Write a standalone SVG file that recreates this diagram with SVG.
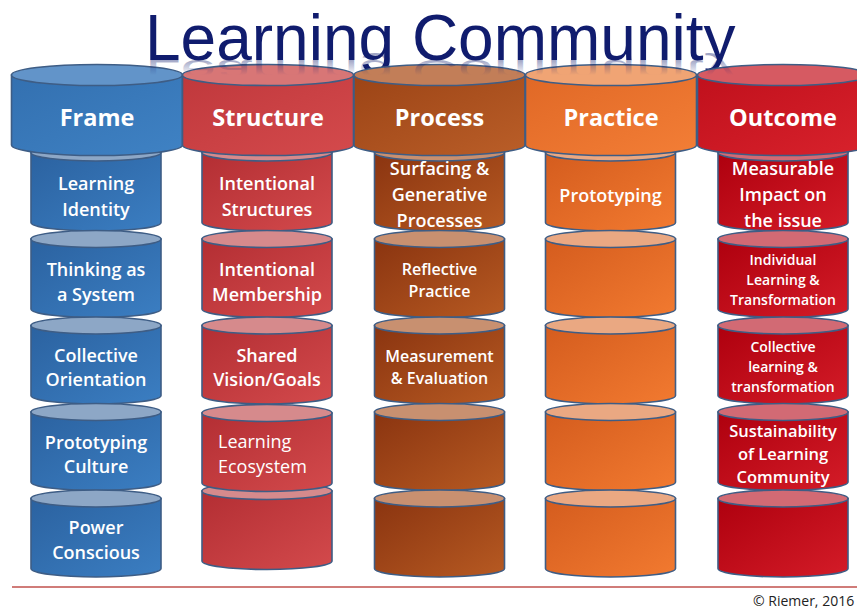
<svg xmlns="http://www.w3.org/2000/svg" width="857" height="611" viewBox="0 0 857 611">
  <defs>
    <style>
      .body { stroke: #3e5d85; stroke-width: 1.6; }
      .top { stroke: #3e5d85; stroke-width: 1.6; }
      .lbl { font-family: "Open Sans", "Liberation Sans", sans-serif; font-weight: 600; fill: #ffffff; text-anchor: middle; }
      .hdr { font-family: "Open Sans", "Liberation Sans", sans-serif; font-weight: 700; font-size: 23.5px; fill: #ffffff; text-anchor: middle; }
      .s18 { font-size: 18px; }
      .s16 { font-size: 16px; }
      .s14 { font-size: 14px; }
      .s165 { font-size: 16.5px; }
      .frame .body { fill: url(#gFrame); }
      .frame .top { fill: #8da7c6; }
      .structure .body { fill: url(#gStructure); }
      .structure .top { fill: #d68a8c; }
      .process .body { fill: url(#gProcess); }
      .process .top { fill: #c89070; }
      .practice .body { fill: url(#gPractice); }
      .practice .top { fill: #eaa882; }
      .outcome .body { fill: url(#gOutcome); }
      .outcome .top { fill: #d26a74; }
      .head.frame .body { fill: url(#hFrame); }
      .head.frame .top { fill: #6294c9; }
      .head.structure .body { fill: url(#hStructure); }
      .head.structure .top { fill: #d87676; }
      .head.process .body { fill: url(#hProcess); }
      .head.process .top { fill: #c27e58; }
      .head.practice .body { fill: url(#hPractice); }
      .head.practice .top { fill: #f0a474; }
      .head.outcome .body { fill: url(#hOutcome); }
      .head.outcome .top { fill: #d65a62; }
    </style>

    <!-- column body shading -->
    <linearGradient id="gFrame" x1="0" y1="0" x2="1" y2="1">
      <stop offset="0" stop-color="#2b62a0"/><stop offset="1" stop-color="#3b7ec2"/>
    </linearGradient>
    <linearGradient id="gStructure" x1="0" y1="0" x2="1" y2="1">
      <stop offset="0" stop-color="#b32e33"/><stop offset="1" stop-color="#d34a4c"/>
    </linearGradient>
    <linearGradient id="gProcess" x1="0" y1="0" x2="1" y2="1">
      <stop offset="0" stop-color="#8a3410"/><stop offset="1" stop-color="#b75a22"/>
    </linearGradient>
    <linearGradient id="gPractice" x1="0" y1="0" x2="1" y2="1">
      <stop offset="0" stop-color="#d45c1e"/><stop offset="1" stop-color="#f27a30"/>
    </linearGradient>
    <linearGradient id="gOutcome" x1="0" y1="0" x2="1" y2="1">
      <stop offset="0" stop-color="#ae000e"/><stop offset="1" stop-color="#d41c28"/>
    </linearGradient>
    <linearGradient id="hFrame" x1="0" y1="0" x2="1" y2="1">
      <stop offset="0" stop-color="#3370b0"/><stop offset="1" stop-color="#3f82c4"/>
    </linearGradient>
    <linearGradient id="hStructure" x1="0" y1="0" x2="1" y2="1">
      <stop offset="0" stop-color="#c0383c"/><stop offset="1" stop-color="#d44a4c"/>
    </linearGradient>
    <linearGradient id="hProcess" x1="0" y1="0" x2="1" y2="1">
      <stop offset="0" stop-color="#9c4416"/><stop offset="1" stop-color="#ba5e28"/>
    </linearGradient>
    <linearGradient id="hPractice" x1="0" y1="0" x2="1" y2="1">
      <stop offset="0" stop-color="#e06826"/><stop offset="1" stop-color="#f37e36"/>
    </linearGradient>
    <linearGradient id="hOutcome" x1="0" y1="0" x2="1" y2="1">
      <stop offset="0" stop-color="#c0101c"/><stop offset="1" stop-color="#d8222c"/>
    </linearGradient>
    <linearGradient id="titleFade" gradientUnits="userSpaceOnUse" x1="0" y1="60" x2="0" y2="30">
      <stop offset="0" stop-color="#101c6e" stop-opacity="0.4"/>
      <stop offset="1" stop-color="#101c6e" stop-opacity="0"/>
    </linearGradient>

    <!-- small cylinder, origin at centre of top face -->
    <path id="cylBody" d="M-65 0 V70 A65 8.5 0 0 0 65 70 V0 Z"/>
    <ellipse id="cylTop" cx="0" cy="0" rx="65" ry="8.5"/>
    <!-- header cylinder, origin at centre of top face -->
    <path id="hdrBody" d="M-85.5 0 V70 A85.5 10.5 0 0 0 85.5 70 V0 Z"/>
    <ellipse id="hdrTop" cx="0" cy="0" rx="85.5" ry="10.5"/>
  </defs>

  <rect width="857" height="611" fill="#ffffff"/>

  <!-- title -->
  <g id="title">
    <text x="145" y="60" font-family="Liberation Sans, Arial, sans-serif" font-size="64" fill="#101c6e">Learning Community</text>
  </g>

  <!-- Frame column -->
  <g id="frame-stack" class="frame">
    <g id="frame-learning-identity" transform="translate(96,152.5)">
      <use href="#cylBody" class="body"/><use href="#cylTop" class="top"/>
      <text class="lbl s18" x="0" y="37.5">Learning</text>
      <text class="lbl s18" x="0" y="63.5">Identity</text>
    </g>
    <g id="frame-thinking-system" transform="translate(96,239)">
      <use href="#cylBody" class="body"/><use href="#cylTop" class="top"/>
      <text class="lbl s18" x="0" y="36.5">Thinking as</text>
      <text class="lbl s18" x="0" y="62">a System</text>
    </g>
    <g id="frame-collective-orientation" transform="translate(96,325.5)">
      <use href="#cylBody" class="body"/><use href="#cylTop" class="top"/>
      <text class="lbl s18" x="0" y="36">Collective</text>
      <text class="lbl s18" x="0" y="60.5">Orientation</text>
    </g>
    <g id="frame-prototyping-culture" transform="translate(96,412)">
      <use href="#cylBody" class="body"/><use href="#cylTop" class="top"/>
      <text class="lbl s18" x="0" y="36.5">Prototyping</text>
      <text class="lbl s18" x="0" y="61">Culture</text>
    </g>
    <g id="frame-power-conscious" transform="translate(96,498.5)">
      <use href="#cylBody" class="body"/><use href="#cylTop" class="top"/>
      <text class="lbl s18" x="0" y="35">Power</text>
      <text class="lbl s18" x="0" y="60">Conscious</text>
    </g>
  </g>

  <!-- Structure column -->
  <g id="structure-stack" class="structure">
    <g id="structure-intentional-structures" transform="translate(267,152.5)">
      <use href="#cylBody" class="body"/><use href="#cylTop" class="top"/>
      <text class="lbl s18" x="0" y="37.5">Intentional</text>
      <text class="lbl s18" x="0" y="63.5">Structures</text>
    </g>
    <g id="structure-intentional-membership" transform="translate(267,239)">
      <use href="#cylBody" class="body"/><use href="#cylTop" class="top"/>
      <text class="lbl s18" x="0" y="36.5">Intentional</text>
      <text class="lbl s18" x="0" y="62">Membership</text>
    </g>
    <g id="structure-shared-vision" transform="translate(267,325.5)">
      <use href="#cylBody" class="body"/><use href="#cylTop" class="top"/>
      <text class="lbl s18" x="0" y="36">Shared</text>
      <text class="lbl s18" x="0" y="60.5">Vision/Goals</text>
    </g>
    <g id="structure-base" transform="translate(267,491)">
      <use href="#cylBody" class="body"/><use href="#cylTop" class="top"/>
    </g>
    <g id="structure-learning-ecosystem" transform="translate(267,413)">
      <use href="#cylBody" class="body"/><use href="#cylTop" class="top"/>
      <text class="lbl s18" x="-49" y="35" style="text-anchor:start;font-weight:400">Learning</text>
      <text class="lbl s18" x="-49" y="60" style="text-anchor:start;font-weight:400">Ecosystem</text>
    </g>
  </g>

  <!-- Process column -->
  <g id="process-stack" class="process">
    <g id="process-surfacing" transform="translate(439.5,152.5)">
      <use href="#cylBody" class="body"/><use href="#cylTop" class="top"/>
      <text class="lbl s18" x="0" y="22.5">Surfacing &amp;</text>
      <text class="lbl s18" x="0" y="48.5">Generative</text>
      <text class="lbl s18" x="0" y="74.5">Processes</text>
    </g>
    <g id="process-reflective-practice" transform="translate(439.5,239)">
      <use href="#cylBody" class="body"/><use href="#cylTop" class="top"/>
      <text class="lbl s16" x="0" y="36">Reflective</text>
      <text class="lbl s16" x="0" y="58">Practice</text>
    </g>
    <g id="process-measurement" transform="translate(439.5,325.5)">
      <use href="#cylBody" class="body"/><use href="#cylTop" class="top"/>
      <text class="lbl s16" x="0" y="36.5">Measurement</text>
      <text class="lbl s16" x="0" y="58">&amp; Evaluation</text>
    </g>
    <g id="process-empty-4" transform="translate(439.5,412)">
      <use href="#cylBody" class="body"/><use href="#cylTop" class="top"/>
    </g>
    <g id="process-empty-5" transform="translate(439.5,498.5)">
      <use href="#cylBody" class="body"/><use href="#cylTop" class="top"/>
    </g>
  </g>

  <!-- Practice column -->
  <g id="practice-stack" class="practice">
    <g id="practice-prototyping" transform="translate(610.5,152.5)">
      <use href="#cylBody" class="body"/><use href="#cylTop" class="top"/>
      <text class="lbl s18" x="0" y="49.5">Prototyping</text>
    </g>
    <g id="practice-empty-2" transform="translate(610.5,239)">
      <use href="#cylBody" class="body"/><use href="#cylTop" class="top"/>
    </g>
    <g id="practice-empty-3" transform="translate(610.5,325.5)">
      <use href="#cylBody" class="body"/><use href="#cylTop" class="top"/>
    </g>
    <g id="practice-empty-4" transform="translate(610.5,412)">
      <use href="#cylBody" class="body"/><use href="#cylTop" class="top"/>
    </g>
    <g id="practice-empty-5" transform="translate(610.5,498.5)">
      <use href="#cylBody" class="body"/><use href="#cylTop" class="top"/>
    </g>
  </g>

  <!-- Outcome column -->
  <g id="outcome-stack" class="outcome">
    <g id="outcome-measurable-impact" transform="translate(783,152.5)">
      <use href="#cylBody" class="body"/><use href="#cylTop" class="top"/>
      <text class="lbl s18" x="0" y="22.5">Measurable</text>
      <text class="lbl s18" x="0" y="48.5">Impact on</text>
      <text class="lbl s18" x="0" y="74.5">the issue</text>
    </g>
    <g id="outcome-individual-learning" transform="translate(783,239)">
      <use href="#cylBody" class="body"/><use href="#cylTop" class="top"/>
      <text class="lbl s14" x="0" y="26">Individual</text>
      <text class="lbl s14" x="0" y="46">Learning &amp;</text>
      <text class="lbl s14" x="0" y="66">Transformation</text>
    </g>
    <g id="outcome-collective-learning" transform="translate(783,325.5)">
      <use href="#cylBody" class="body"/><use href="#cylTop" class="top"/>
      <text class="lbl s14" x="0" y="26.5">Collective</text>
      <text class="lbl s14" x="0" y="46.5">learning &amp;</text>
      <text class="lbl s14" x="0" y="66.5">transformation</text>
    </g>
    <g id="outcome-sustainability" transform="translate(783,412)">
      <use href="#cylBody" class="body"/><use href="#cylTop" class="top"/>
      <text class="lbl s165" x="0" y="25">Sustainability</text>
      <text class="lbl s165" x="0" y="48">of Learning</text>
      <text class="lbl s165" x="0" y="71">Community</text>
    </g>
    <g id="outcome-empty-5" transform="translate(783,498.5)">
      <use href="#cylBody" class="body"/><use href="#cylTop" class="top"/>
    </g>
  </g>

  <!-- header cylinders -->
  <g id="header-frame" class="head frame" transform="translate(97,75)">
    <use href="#hdrBody" class="body"/><use href="#hdrTop" class="top"/>
    <text class="hdr" x="0" y="51">Frame</text>
  </g>
  <g id="header-structure" class="head structure" transform="translate(268,75)">
    <use href="#hdrBody" class="body"/><use href="#hdrTop" class="top"/>
    <text class="hdr" x="0" y="51">Structure</text>
  </g>
  <g id="header-process" class="head process" transform="translate(439.5,75)">
    <use href="#hdrBody" class="body"/><use href="#hdrTop" class="top"/>
    <text class="hdr" x="0" y="51">Process</text>
  </g>
  <g id="header-practice" class="head practice" transform="translate(611,75)">
    <use href="#hdrBody" class="body"/><use href="#hdrTop" class="top"/>
    <text class="hdr" x="0" y="51">Practice</text>
  </g>
  <g id="header-outcome" class="head outcome" transform="translate(783,75)">
    <use href="#hdrBody" class="body"/><use href="#hdrTop" class="top"/>
    <text class="hdr" x="0" y="51">Outcome</text>
  </g>

  <!-- faint squashed mirror of the title, fading downwards -->
  <g id="title-reflection" transform="translate(0,90) scale(1,-0.5)">
    <text x="145" y="60" font-family="Liberation Sans, Arial, sans-serif" font-size="64" fill="url(#titleFade)">Learning Community</text>
  </g>

  <!-- footer rule and credit -->
  <line x1="12" y1="587" x2="857" y2="587" stroke="#c0504d" stroke-width="1.5"/>
  <text x="753" y="606" font-family="Open Sans, Liberation Sans, sans-serif" font-size="14" fill="#222222">© Riemer, 2016</text>
</svg>
